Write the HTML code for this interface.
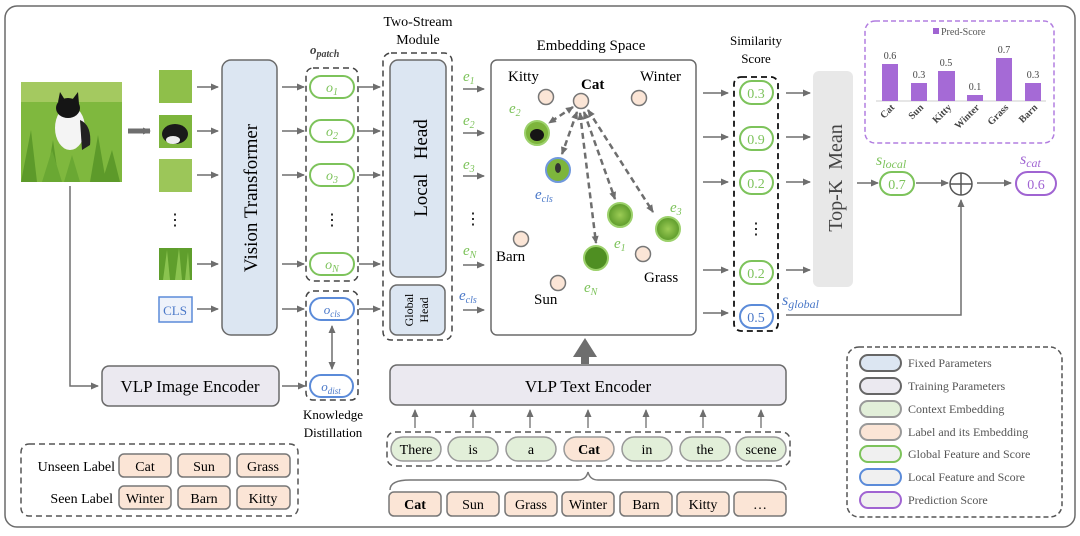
<!DOCTYPE html>
<html><head><meta charset="utf-8"><style>
html,body{margin:0;padding:0;background:#fff;}
svg{display:block;font-family:"Liberation Serif",serif;}
</style></head><body>
<svg width="1080" height="536" viewBox="0 0 1080 536" xmlns="http://www.w3.org/2000/svg">
<defs>
<marker id="a" markerWidth="8" markerHeight="8" refX="7" refY="4" orient="auto" markerUnits="userSpaceOnUse"><path d="M0,0.5 L8,4 L0,7.5z" fill="#6e6e6e"/></marker>
<marker id="as" markerWidth="8" markerHeight="8" refX="7" refY="4" orient="auto-start-reverse" markerUnits="userSpaceOnUse"><path d="M0,0.5 L8,4 L0,7.5z" fill="#6e6e6e"/></marker>
<radialGradient id="g1"><stop offset="0" stop-color="#9ccc55"/><stop offset="1" stop-color="#5c9a2a"/></radialGradient>
</defs>
<rect x="5" y="6" width="1070" height="521" rx="12" fill="#fff" stroke="#6a6a6a" stroke-width="1.5"/>

<!-- cat image -->
<rect x="21" y="82" width="101" height="100" fill="#7fb83e"/>
<rect x="21" y="82" width="101" height="20" fill="#a4c960"/>
<path d="M21,182 L31,130 L37,182 M46,182 L53,140 L59,182 M90,182 L98,135 L106,182 M102,182 L112,150 L120,182" fill="#5d9a2a"/>
<ellipse cx="70" cy="128" rx="15" ry="22" fill="#f4f4f4"/>
<ellipse cx="68" cy="108" rx="12" ry="10" fill="#151515"/>
<path d="M58,102 L60,92 L65,100z M72,100 L78,92 L79,104z" fill="#151515"/>
<path d="M80,120 Q92,125 90,145 L82,150z" fill="#222"/>
<path d="M42,182 L52,150 L62,182 M64,182 L72,155 L80,182" fill="#6aa833"/>
<line x1="128" y1="131" x2="150" y2="131" stroke="#6e6e6e" stroke-width="5" marker-end="url(#a)"/>

<!-- patches -->
<rect x="159" y="70" width="33" height="33" fill="#8fbf4a"/>
<rect x="159" y="115" width="33" height="33" fill="#7db53c"/>
<ellipse cx="175" cy="134" rx="13" ry="10" fill="#1a1a1a"/><ellipse cx="173" cy="140" rx="7" ry="4" fill="#eee"/>
<rect x="159" y="159" width="33" height="33" fill="#9cc659"/>
<text x="175" y="225" font-size="16" text-anchor="middle">⋮</text>
<rect x="159" y="248" width="33" height="32" fill="#5f9e2c"/>
<path d="M163,280 L167,250 L170,280 M175,280 L179,248 L182,280 M185,280 L188,252 L190,280" fill="#8ac34f"/>
<rect x="159" y="297" width="33" height="25" fill="#eef2fa" stroke="#5b8bd9" stroke-width="1.5"/>
<text x="175" y="315" font-size="13" text-anchor="middle" fill="#4a78c8">CLS</text>
<g stroke="#6e6e6e" stroke-width="1.5" marker-end="url(#a)">
<line x1="197" y1="87" x2="218" y2="87"/><line x1="197" y1="131" x2="218" y2="131"/><line x1="197" y1="175" x2="218" y2="175"/><line x1="197" y1="264" x2="218" y2="264"/><line x1="197" y1="309" x2="218" y2="309"/>
</g>
<rect x="222" y="60" width="55" height="275" rx="9" fill="#dce6f2" stroke="#6a6a6a" stroke-width="1.5"/>
<text transform="translate(257,198) rotate(-90)" font-size="19" text-anchor="middle">Vision Transformer</text>
<g stroke="#6e6e6e" stroke-width="1.5" marker-end="url(#a)">
<line x1="282" y1="87" x2="304" y2="87"/><line x1="282" y1="131" x2="304" y2="131"/><line x1="282" y1="175" x2="304" y2="175"/><line x1="282" y1="264" x2="304" y2="264"/><line x1="282" y1="309" x2="304" y2="309"/>
</g>

<!-- o_patch -->
<text x="310" y="54" font-size="13" font-weight="bold" font-style="italic" fill="#444">o<tspan font-size="10" dy="3">patch</tspan></text>
<rect x="306" y="68" width="52" height="213" rx="7" fill="none" stroke="#444" stroke-width="1.5" stroke-dasharray="6,4"/>
<g fill="#fff" stroke="#7dc35b" stroke-width="2">
<rect x="310" y="76" width="44" height="22" rx="11"/><rect x="310" y="120" width="44" height="22" rx="11"/><rect x="310" y="164" width="44" height="22" rx="11"/><rect x="310" y="253" width="44" height="22" rx="11"/>
</g>
<g font-size="14" font-style="italic" fill="#7dc35b" text-anchor="middle">
<text x="332" y="92">o<tspan font-size="10" dy="3">1</tspan></text>
<text x="332" y="136">o<tspan font-size="10" dy="3">2</tspan></text>
<text x="332" y="180">o<tspan font-size="10" dy="3">3</tspan></text>
<text x="332" y="269">o<tspan font-size="10" dy="3">N</tspan></text>
</g>
<text x="332" y="225" font-size="16" text-anchor="middle">⋮</text>
<rect x="306" y="291" width="52" height="109" rx="7" fill="none" stroke="#444" stroke-width="1.5" stroke-dasharray="6,4"/>
<rect x="310" y="298" width="44" height="22" rx="11" fill="#fff" stroke="#5b8bd9" stroke-width="2"/>
<text x="332" y="314" font-size="13" font-style="italic" fill="#4a78c8" text-anchor="middle">o<tspan font-size="9" dy="3">cls</tspan></text>
<rect x="310" y="375" width="43" height="22" rx="11" fill="#fff" stroke="#5b8bd9" stroke-width="2"/>
<text x="331" y="391" font-size="13" font-style="italic" fill="#4a78c8" text-anchor="middle">o<tspan font-size="9" dy="3">dist</tspan></text>
<line x1="332" y1="326" x2="332" y2="369" stroke="#6e6e6e" stroke-width="1.5" marker-start="url(#as)" marker-end="url(#a)"/>
<text x="333" y="419" font-size="13" text-anchor="middle">Knowledge</text>
<text x="333" y="437" font-size="13" text-anchor="middle">Distillation</text>

<!-- Two stream -->
<text x="418" y="26" font-size="14" text-anchor="middle">Two-Stream</text>
<text x="418" y="44" font-size="14" text-anchor="middle">Module</text>
<g stroke="#6e6e6e" stroke-width="1.5" marker-end="url(#a)">
<line x1="359" y1="87" x2="380" y2="87"/><line x1="359" y1="131" x2="380" y2="131"/><line x1="359" y1="175" x2="380" y2="175"/><line x1="359" y1="264" x2="380" y2="264"/><line x1="359" y1="309" x2="380" y2="309"/>
</g>
<rect x="383" y="53" width="69" height="287" rx="8" fill="none" stroke="#444" stroke-width="1.5" stroke-dasharray="6,4"/>
<rect x="390" y="60" width="56" height="217" rx="8" fill="#dce6f2" stroke="#6a6a6a" stroke-width="1.5"/>
<text transform="translate(427,168) rotate(-90)" font-size="19" text-anchor="middle">Local&#160;&#160;&#160;Head</text>
<rect x="390" y="285" width="55" height="50" rx="7" fill="#dce6f2" stroke="#6a6a6a" stroke-width="1.5"/>
<text transform="translate(413,310) rotate(-90)" font-size="12" text-anchor="middle">Global</text>
<text transform="translate(428,310) rotate(-90)" font-size="12" text-anchor="middle">Head</text>

<!-- e labels -->
<g font-size="15" font-style="italic" fill="#7dc35b">
<text x="463" y="81">e<tspan font-size="10" dy="3">1</tspan></text>
<text x="463" y="125">e<tspan font-size="10" dy="3">2</tspan></text>
<text x="463" y="169">e<tspan font-size="10" dy="3">3</tspan></text>
<text x="463" y="255">e<tspan font-size="10" dy="3">N</tspan></text>
</g>
<text x="459" y="300" font-size="15" font-style="italic" fill="#4a78c8">e<tspan font-size="10" dy="3">cls</tspan></text>
<text x="473" y="224" font-size="16" text-anchor="middle">⋮</text>
<g stroke="#6e6e6e" stroke-width="1.5" marker-end="url(#a)">
<line x1="463" y1="89" x2="484" y2="89"/><line x1="463" y1="133" x2="484" y2="133"/><line x1="463" y1="176" x2="484" y2="176"/><line x1="463" y1="265" x2="484" y2="265"/><line x1="463" y1="310" x2="484" y2="310"/>
</g>

<!-- embedding space -->
<text x="591" y="50" font-size="15" text-anchor="middle">Embedding Space</text>
<rect x="491" y="60" width="205" height="275" rx="6" fill="#fff" stroke="#6a6a6a" stroke-width="1.5"/>
<g stroke="#6e6e6e" stroke-width="2.5" stroke-dasharray="6,4" fill="none">
<line x1="573" y1="107" x2="549" y2="123" marker-start="url(#as)" marker-end="url(#a)"/>
<line x1="577" y1="112" x2="562" y2="154" marker-start="url(#as)" marker-end="url(#a)"/>
<line x1="580" y1="113" x2="596" y2="243" marker-start="url(#as)" marker-end="url(#a)"/>
<line x1="584" y1="112" x2="615" y2="199" marker-start="url(#as)" marker-end="url(#a)"/>
<line x1="588" y1="110" x2="653" y2="212" marker-start="url(#as)" marker-end="url(#a)"/>
</g>
<g fill="#fbe5d6" stroke="#777" stroke-width="1.5">
<circle cx="546" cy="97" r="7.5"/><circle cx="581" cy="101" r="7.5"/><circle cx="639" cy="98" r="7.5"/>
<circle cx="521" cy="239" r="7.5"/><circle cx="558" cy="283" r="7.5"/><circle cx="643" cy="254" r="7.5"/>
</g>
<g font-size="15">
<text x="508" y="81">Kitty</text><text x="581" y="89" font-weight="bold">Cat</text><text x="640" y="81">Winter</text>
<text x="496" y="261">Barn</text><text x="534" y="304">Sun</text><text x="644" y="282">Grass</text>
</g>
<circle cx="537" cy="133" r="12" fill="#7db53c" stroke="#9cd16b" stroke-width="2"/><ellipse cx="537" cy="135" rx="7" ry="6" fill="#151515"/>
<circle cx="558" cy="170" r="12" fill="#7db53c" stroke="#6f98dc" stroke-width="2"/><ellipse cx="558" cy="168" rx="3" ry="5" fill="#333"/>
<circle cx="620" cy="215" r="12" fill="url(#g1)" stroke="#9cd16b" stroke-width="2"/>
<circle cx="668" cy="229" r="12" fill="url(#g1)" stroke="#9cd16b" stroke-width="2"/>
<circle cx="596" cy="258" r="12" fill="#4f8f22" stroke="#9cd16b" stroke-width="2"/>
<g font-size="15" font-style="italic" fill="#7dc35b">
<text x="509" y="113">e<tspan font-size="10" dy="3">2</tspan></text>
<text x="614" y="248">e<tspan font-size="10" dy="3">1</tspan></text>
<text x="670" y="212">e<tspan font-size="10" dy="3">3</tspan></text>
<text x="584" y="292">e<tspan font-size="10" dy="3">N</tspan></text>
</g>
<text x="535" y="199" font-size="15" font-style="italic" fill="#4a78c8">e<tspan font-size="10" dy="3">cls</tspan></text>
<polygon points="573,357 597,357 585,338" fill="#6e6e6e"/><rect x="581" y="355" width="8" height="9" fill="#6e6e6e"/>

<!-- similarity -->
<text x="756" y="45" font-size="13" text-anchor="middle">Similarity</text>
<text x="756" y="63" font-size="13" text-anchor="middle">Score</text>
<g stroke="#6e6e6e" stroke-width="1.5" marker-end="url(#a)">
<line x1="703" y1="93" x2="728" y2="93"/><line x1="703" y1="137" x2="728" y2="137"/><line x1="703" y1="182" x2="728" y2="182"/><line x1="703" y1="270" x2="728" y2="270"/><line x1="703" y1="313" x2="728" y2="313"/>
<line x1="786" y1="93" x2="810" y2="93"/><line x1="786" y1="137" x2="810" y2="137"/><line x1="786" y1="182" x2="810" y2="182"/><line x1="786" y1="270" x2="810" y2="270"/>
</g>
<rect x="734" y="77" width="44" height="254" rx="7" fill="none" stroke="#111" stroke-width="1.8" stroke-dasharray="6,4"/>
<g fill="#fff" stroke="#7dc35b" stroke-width="2">
<rect x="740" y="81" width="33" height="23" rx="11.5"/><rect x="740" y="127" width="33" height="23" rx="11.5"/><rect x="740" y="171" width="33" height="23" rx="11.5"/><rect x="740" y="261" width="33" height="23" rx="11.5"/>
</g>
<rect x="740" y="305" width="33" height="23" rx="11.5" fill="#fff" stroke="#5b8bd9" stroke-width="2"/>
<g font-size="14" text-anchor="middle" fill="#7dc35b">
<text x="756" y="98">0.3</text><text x="756" y="144">0.9</text><text x="756" y="188">0.2</text><text x="756" y="278">0.2</text>
</g>
<text x="756" y="322" font-size="14" text-anchor="middle" fill="#4a78c8">0.5</text>
<text x="756" y="234" font-size="16" text-anchor="middle">⋮</text>
<text x="782" y="305" font-size="16" font-style="italic" fill="#4a78c8">s<tspan font-size="12" dy="3">global</tspan></text>

<rect x="813" y="71" width="40" height="216" rx="6" fill="#e8e8e8"/>
<text transform="translate(842,178) rotate(-90)" font-size="20" text-anchor="middle" fill="#444">Top-K&#160;&#160;Mean</text>

<line x1="857" y1="183" x2="878" y2="183" stroke="#6e6e6e" stroke-width="1.5" marker-end="url(#a)"/>
<rect x="880" y="172" width="34" height="23" rx="11.5" fill="#fff" stroke="#7dc35b" stroke-width="2"/>
<text x="897" y="189" font-size="14" text-anchor="middle" fill="#7dc35b">0.7</text>
<text x="876" y="165" font-size="16" font-style="italic" fill="#7dc35b">s<tspan font-size="12" dy="3">local</tspan></text>
<line x1="916" y1="183" x2="948" y2="183" stroke="#6e6e6e" stroke-width="1.5" marker-end="url(#a)"/>
<circle cx="961" cy="184" r="11" fill="#fff" stroke="#555" stroke-width="1.5"/>
<line x1="950" y1="184" x2="972" y2="184" stroke="#555" stroke-width="1.5"/><line x1="961" y1="173" x2="961" y2="195" stroke="#555" stroke-width="1.5"/>
<line x1="977" y1="183" x2="1011" y2="183" stroke="#6e6e6e" stroke-width="1.5" marker-end="url(#a)"/>
<rect x="1016" y="172" width="40" height="23" rx="11.5" fill="#fff" stroke="#a064d2" stroke-width="2"/>
<text x="1036" y="189" font-size="14" text-anchor="middle" fill="#a064d2">0.6</text>
<text x="1020" y="164" font-size="16" font-style="italic" fill="#a064d2">s<tspan font-size="12" dy="3">cat</tspan></text>
<polyline points="786,315 961,315 961,200" fill="none" stroke="#6e6e6e" stroke-width="1.5" marker-end="url(#a)"/>

<!-- bar chart -->
<rect x="865" y="21" width="189" height="122" rx="10" fill="none" stroke="#b27ee0" stroke-width="1.5" stroke-dasharray="5,3"/>
<rect x="933" y="28" width="6" height="6" fill="#a064d2"/>
<text x="941" y="35" font-size="10" fill="#555">Pred-Score</text>
<line x1="876" y1="101" x2="1046" y2="101" stroke="#ccc"/>
<g fill="#a56ad6">
<rect x="882" y="64" width="16" height="37"/><rect x="911" y="83" width="16" height="18"/><rect x="938" y="71" width="17" height="30"/><rect x="967" y="95" width="16" height="6"/><rect x="996" y="58" width="16" height="43"/><rect x="1025" y="83" width="16" height="18"/>
</g>
<g font-size="10" text-anchor="middle" fill="#444">
<text x="890" y="59">0.6</text><text x="919" y="78">0.3</text><text x="946" y="66">0.5</text><text x="975" y="90">0.1</text><text x="1004" y="53">0.7</text><text x="1033" y="78">0.3</text>
</g>
<g font-size="10" font-weight="bold" fill="#444" text-anchor="end">
<text transform="translate(895,108) rotate(-45)">Cat</text>
<text transform="translate(924,108) rotate(-45)">Sun</text>
<text transform="translate(952,108) rotate(-45)">Kitty</text>
<text transform="translate(980,108) rotate(-45)">Winter</text>
<text transform="translate(1009,108) rotate(-45)">Grass</text>
<text transform="translate(1038,108) rotate(-45)">Barn</text>
</g>

<!-- VLP image encoder -->
<polyline points="70,186 70,386 98,386" fill="none" stroke="#6e6e6e" stroke-width="1.5" marker-end="url(#a)"/>
<rect x="102" y="366" width="177" height="40" rx="7" fill="#ebe9f0" stroke="#6a6a6a" stroke-width="1.5"/>
<text x="190" y="392" font-size="17" text-anchor="middle">VLP Image Encoder</text>
<line x1="282" y1="386" x2="305" y2="386" stroke="#6e6e6e" stroke-width="1.5" marker-end="url(#a)"/>

<!-- labels box -->
<rect x="21" y="444" width="277" height="72" rx="8" fill="none" stroke="#555" stroke-width="1.5" stroke-dasharray="6,4"/>
<text x="115" y="471" font-size="14" text-anchor="end">Unseen Label</text>
<text x="113" y="503" font-size="14" text-anchor="end">Seen Label</text>
<g fill="#fbe5d6" stroke="#777" stroke-width="1.5">
<rect x="119" y="454" width="52" height="23" rx="5"/><rect x="178" y="454" width="52" height="23" rx="5"/><rect x="237" y="454" width="53" height="23" rx="5"/>
<rect x="119" y="486" width="52" height="23" rx="5"/><rect x="178" y="486" width="52" height="23" rx="5"/><rect x="237" y="486" width="53" height="23" rx="5"/>
</g>
<g font-size="14" text-anchor="middle">
<text x="145" y="471">Cat</text><text x="204" y="471">Sun</text><text x="263" y="471">Grass</text>
<text x="145" y="503">Winter</text><text x="204" y="503">Barn</text><text x="263" y="503">Kitty</text>
</g>

<!-- text encoder -->
<rect x="390" y="365" width="396" height="40" rx="7" fill="#ebe9f0" stroke="#6a6a6a" stroke-width="1.5"/>
<text x="588" y="392" font-size="17" text-anchor="middle">VLP Text Encoder</text>
<g stroke="#6e6e6e" stroke-width="1.3" marker-end="url(#a)">
<line x1="415" y1="428" x2="415" y2="410"/><line x1="473" y1="428" x2="473" y2="410"/><line x1="530" y1="428" x2="530" y2="410"/><line x1="588" y1="428" x2="588" y2="410"/><line x1="646" y1="428" x2="646" y2="410"/><line x1="703" y1="428" x2="703" y2="410"/><line x1="761" y1="428" x2="761" y2="410"/>
</g>
<rect x="387" y="432" width="403" height="34" rx="8" fill="none" stroke="#555" stroke-width="1.5" stroke-dasharray="6,4"/>
<g fill="#e2efd9" stroke="#999" stroke-width="1.5">
<rect x="391" y="437" width="50" height="24" rx="12"/><rect x="448" y="437" width="50" height="24" rx="12"/><rect x="506" y="437" width="50" height="24" rx="12"/>
<rect x="622" y="437" width="50" height="24" rx="12"/><rect x="680" y="437" width="50" height="24" rx="12"/><rect x="736" y="437" width="50" height="24" rx="12"/>
</g>
<rect x="564" y="437" width="50" height="24" rx="12" fill="#fbe5d6" stroke="#999" stroke-width="1.5"/>
<g font-size="14" text-anchor="middle">
<text x="416" y="454">There</text><text x="473" y="454">is</text><text x="531" y="454">a</text><text x="589" y="454" font-weight="bold">Cat</text><text x="647" y="454">in</text><text x="705" y="454">the</text><text x="761" y="454">scene</text>
</g>
<path d="M390,490 Q390,480 410,480 L578,480 Q586,480 588,472 Q590,480 598,480 L766,480 Q786,480 786,490" fill="none" stroke="#777" stroke-width="1.5"/>
<g fill="#fbe5d6" stroke="#777" stroke-width="1.5">
<rect x="389" y="492" width="52" height="24" rx="5"/><rect x="447" y="492" width="52" height="24" rx="5"/><rect x="505" y="492" width="52" height="24" rx="5"/><rect x="562" y="492" width="52" height="24" rx="5"/><rect x="620" y="492" width="52" height="24" rx="5"/><rect x="677" y="492" width="52" height="24" rx="5"/><rect x="734" y="492" width="52" height="24" rx="5"/>
</g>
<g font-size="14" text-anchor="middle">
<text x="415" y="509" font-weight="bold">Cat</text><text x="473" y="509">Sun</text><text x="531" y="509">Grass</text><text x="588" y="509">Winter</text><text x="646" y="509">Barn</text><text x="703" y="509">Kitty</text><text x="760" y="509">…</text>
</g>

<!-- legend -->
<rect x="847" y="347" width="215" height="170" rx="12" fill="none" stroke="#555" stroke-width="1.5" stroke-dasharray="5,3"/>
<g stroke-width="2">
<rect x="860" y="355" width="41" height="16" rx="8" fill="#dce6f2" stroke="#666"/>
<rect x="860" y="378" width="41" height="16" rx="8" fill="#ebe9f0" stroke="#666"/>
<rect x="860" y="401" width="41" height="16" rx="8" fill="#e2efd9" stroke="#999"/>
<rect x="860" y="424" width="41" height="16" rx="8" fill="#fbe5d6" stroke="#999"/>
<rect x="860" y="446" width="41" height="16" rx="8" fill="#f0f0f0" stroke="#7dc35b"/>
<rect x="860" y="469" width="41" height="16" rx="8" fill="#f0f0f0" stroke="#5b8bd9"/>
<rect x="860" y="492" width="41" height="16" rx="8" fill="#f0f0f0" stroke="#a064d2"/>
</g>
<g font-size="12" fill="#555">
<text x="908" y="367">Fixed Parameters</text>
<text x="908" y="390">Training Parameters</text>
<text x="908" y="413">Context Embedding</text>
<text x="908" y="436">Label and its Embedding</text>
<text x="908" y="458">Global Feature and Score</text>
<text x="908" y="481">Local Feature and Score</text>
<text x="908" y="504">Prediction Score</text>
</g>
</svg>
</body></html>
